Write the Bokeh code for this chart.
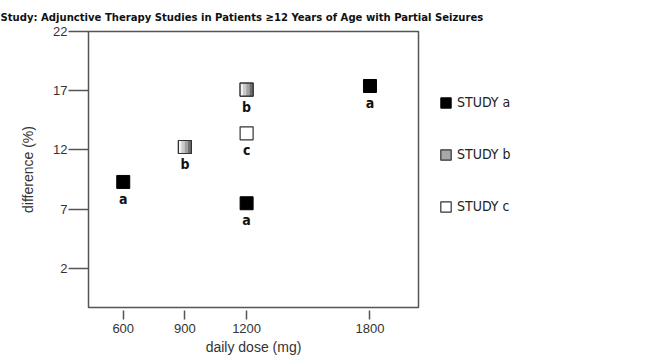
from bokeh.plotting import figure
from bokeh.models import ColumnDataSource, Range1d, FixedTicker, Legend, LegendItem
from bokeh.transform import dodge
from bokeh.core.properties import value
from bokeh.embed import file_html
from bokeh.resources import INLINE

# ---- data ----
title_text = "Study: Adjunctive Therapy Studies in Patients \u226512 Years of Age with Partial Seizures"
dose_a = [600, 1200, 1800]
diff_a = [9.3, 7.5, 17.4]
dose_b = [900, 1200]
diff_b = [12.25, 17.1]
dose_c = [1200]
diff_c = [13.4]
letters_a = ["a", "a", "a"]
letters_b = ["b", "b"]
letters_c = ["c"]
series_names = ["STUDY a", "STUDY b", "STUDY c"]
x_ticks = [600, 900, 1200, 1800]
y_ticks = [2, 7, 12, 17, 22]

NARROW = "DejaVu Sans Condensed, Liberation Sans"
SANS = "Liberation Sans"
X0, X1 = 431, 2036
FRAME_W = 330
FRAME_H = 276

src_a = ColumnDataSource(dict(x=dose_a, y=diff_a, t=letters_a))
src_b = ColumnDataSource(dict(x=dose_b, y=diff_b, t=letters_b))
src_c = ColumnDataSource(dict(x=dose_c, y=diff_c, t=letters_c))

p = figure(frame_width=FRAME_W, frame_height=FRAME_H, output_backend="svg", toolbar_location=None,
           x_range=Range1d(X0, X1), y_range=Range1d(-1.3, 22),
           min_border_left=88, min_border_right=215, min_border_top=31,
           min_border_bottom=49, title=title_text)

p.title.text_font = NARROW
p.title.text_font_size = "11.2px"
p.title.text_font_style = "bold"
p.title.text_color = "#111"
p.title.align = "left"
p.title.offset = -88
p.title.standoff = 16

p.xgrid.visible = False
p.ygrid.visible = False
p.outline_line_color = "#555"
p.outline_line_width = 1.5

for ax in (p.xaxis, p.yaxis):
    ax.axis_line_color = None
    ax.minor_tick_line_color = None
    ax.major_tick_line_color = "#555"
    ax.major_tick_line_width = 1.5
    ax.major_label_text_font = SANS
    ax.major_label_text_font_size = "13px"
    ax.major_label_text_color = "#333"
    ax.axis_label_text_font = SANS
    ax.axis_label_text_font_size = "14px"
    ax.axis_label_text_font_style = "normal"
    ax.axis_label_text_color = "#333"

p.xaxis.ticker = FixedTicker(ticks=x_ticks)
p.yaxis.ticker = FixedTicker(ticks=y_ticks)
p.xaxis.major_tick_in = -3
p.xaxis.major_tick_out = 12
p.xaxis.major_label_standoff = 4
p.xaxis.axis_label = "daily dose (mg)"
p.xaxis.axis_label_standoff = 3
p.yaxis.major_tick_in = 0
p.yaxis.major_tick_out = 20
p.yaxis.major_label_standoff = 1
p.yaxis.axis_label = "difference (%)"
p.yaxis.axis_label_standoff = 14

SZ = 13
common = dict(width=SZ, height=SZ, width_units="screen", height_units="screen")

ra = p.rect("x", "y", source=src_a, fill_color="black", line_color="black", line_width=1, **common)

rb = p.rect("x", "y", source=src_b, fill_color="#a8a8a8", line_color="#333", line_width=1.2, **common)
unit_per_px = (X1 - X0) / FRAME_W
stripe_colors = ["#f2f2f2", "#cacaca", "#a2a2a2", "#6e6e6e"]
stripe_w = SZ / 4.0
for i, col in enumerate(stripe_colors):
    off_px = -SZ / 2.0 + stripe_w * (i + 0.5)
    p.rect(dodge("x", off_px * unit_per_px), "y", source=src_b, width=stripe_w + 0.3,
           height=SZ, width_units="screen", height_units="screen",
           fill_color=col, line_color=None)
p.rect("x", "y", source=src_b, fill_color=None, line_color="#333", line_width=1.2, **common)

rc = p.rect("x", "y", source=src_c, fill_color="white", line_color="#333", line_width=1.2, **common)

for s in (src_a, src_b, src_c):
    p.text("x", "y", text="t", source=s, text_align="center", text_baseline="alphabetic",
           y_offset=17, text_font=value(NARROW), text_font_style="bold",
           text_font_size="14px", text_color="#111")

legend = Legend(items=[LegendItem(label=series_names[0], renderers=[ra]),
                       LegendItem(label=series_names[1], renderers=[rb]),
                       LegendItem(label=series_names[2], renderers=[rc])],
                location=(21, 93), orientation="vertical",
                glyph_width=13, glyph_height=13, label_height=13, spacing=36,
                padding=0, margin=0, border_line_color=None, background_fill_alpha=0,
                label_standoff=5, label_text_font=NARROW, label_text_font_size="14px",
                label_text_color="#222")
p.add_layout(legend, "right")

open("out.html", "w").write(file_html(p, INLINE))
